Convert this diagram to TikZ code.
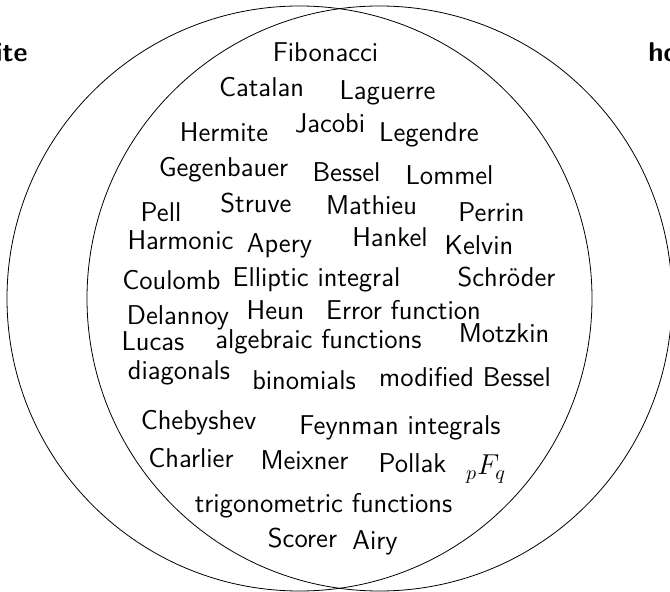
\documentclass[tikz,border=0pt]{standalone}
\usepackage{tikz}
\usetikzlibrary{positioning}

\tikzset{
    fn/.style={anchor=base, inner sep=0pt, font=\sffamily\fontsize{13.6}{16}\selectfont},
    setname/.style={anchor=base, inner sep=0pt, font=\sffamily\bfseries\fontsize{13.6}{16}\selectfont}
}

\begin{document}
\begin{tikzpicture}[x=0.5pt, y=-0.5pt]
    % Frame
    \useasboundingbox (0,0) rectangle (670,592);
    \clip (0,0) rectangle (670,592);

    % The two sets
    \draw[thin] (299.5,298.5) circle (292.5);
    \draw[thin] (379.5,298.5) circle (292.5);

    % Set names
    \node[setname, anchor=base east] (dfin) at (28,62) {D-finite};
    \node[setname, anchor=base west] (holo) at (648,62) {holonomic};

    % Members, row by row
    \node[fn] (fib) at (325.5,62) {Fibonacci};
    \node[fn] (cat) at (261.5,97) {Catalan};
    \node[fn] (lag) at (387.5,100) {Laguerre};
    \node[fn] (her) at (224,142) {Hermite};
    \node[fn] (jac) at (330,133) {Jacobi};
    \node[fn] (leg) at (429,142) {Legendre};
    \node[fn] (geg) at (223.5,177) {Gegenbauer};
    \node[fn] (bes) at (346.5,182) {Bessel};
    \node[fn] (lom) at (449.5,185) {Lommel};
    \node[fn] (pel) at (161,222) {Pell};
    \node[fn] (str) at (256,213) {Struve};
    \node[fn] (mat) at (371.5,215) {Mathieu};
    \node[fn] (per) at (491.5,222) {Perrin};
    \node[fn] (har) at (180.5,250) {Harmonic};
    \node[fn] (ape) at (279.5,253) {Apery};
    \node[fn] (han) at (390,247) {Hankel};
    \node[fn] (kel) at (479,255) {Kelvin};
    \node[fn] (cou) at (171.5,290) {Coulomb};
    \node[fn] (ell) at (316.5,287) {Elliptic integral};
    \node[fn] (sch) at (506.5,287) {Schröder};
    \node[fn] (del) at (178,325) {Delannoy};
    \node[fn] (heu) at (275.5,320) {Heun};
    \node[fn] (err) at (403.5,320) {Error function};
    \node[fn] (luc) at (153,351) {Lucas};
    \node[fn] (alg) at (318.5,349) {algebraic functions};
    \node[fn] (mot) at (504,343) {Motzkin};
    \node[fn] (dia) at (179,380) {diagonals};
    \node[fn] (bin) at (304,390) {binomials};
    \node[fn] (mbe) at (465,387) {modified Bessel};
    \node[fn] (che) at (198.5,430) {Chebyshev};
    \node[fn] (fey) at (400,435) {Feynman integrals};
    \node[fn] (cha) at (191,468) {Charlier};
    \node[fn] (mei) at (304.5,470) {Meixner};
    \node[fn] (pol) at (412.5,473) {Pollak};
    \node[fn] (pfq) at (486,475) {$_pF_q$};
    \node[fn] (tri) at (323.5,513) {trigonometric functions};
    \node[fn] (sco) at (302.5,548) {Scorer};
    \node[fn] (air) at (375,550) {Airy};
\end{tikzpicture}
\end{document}
